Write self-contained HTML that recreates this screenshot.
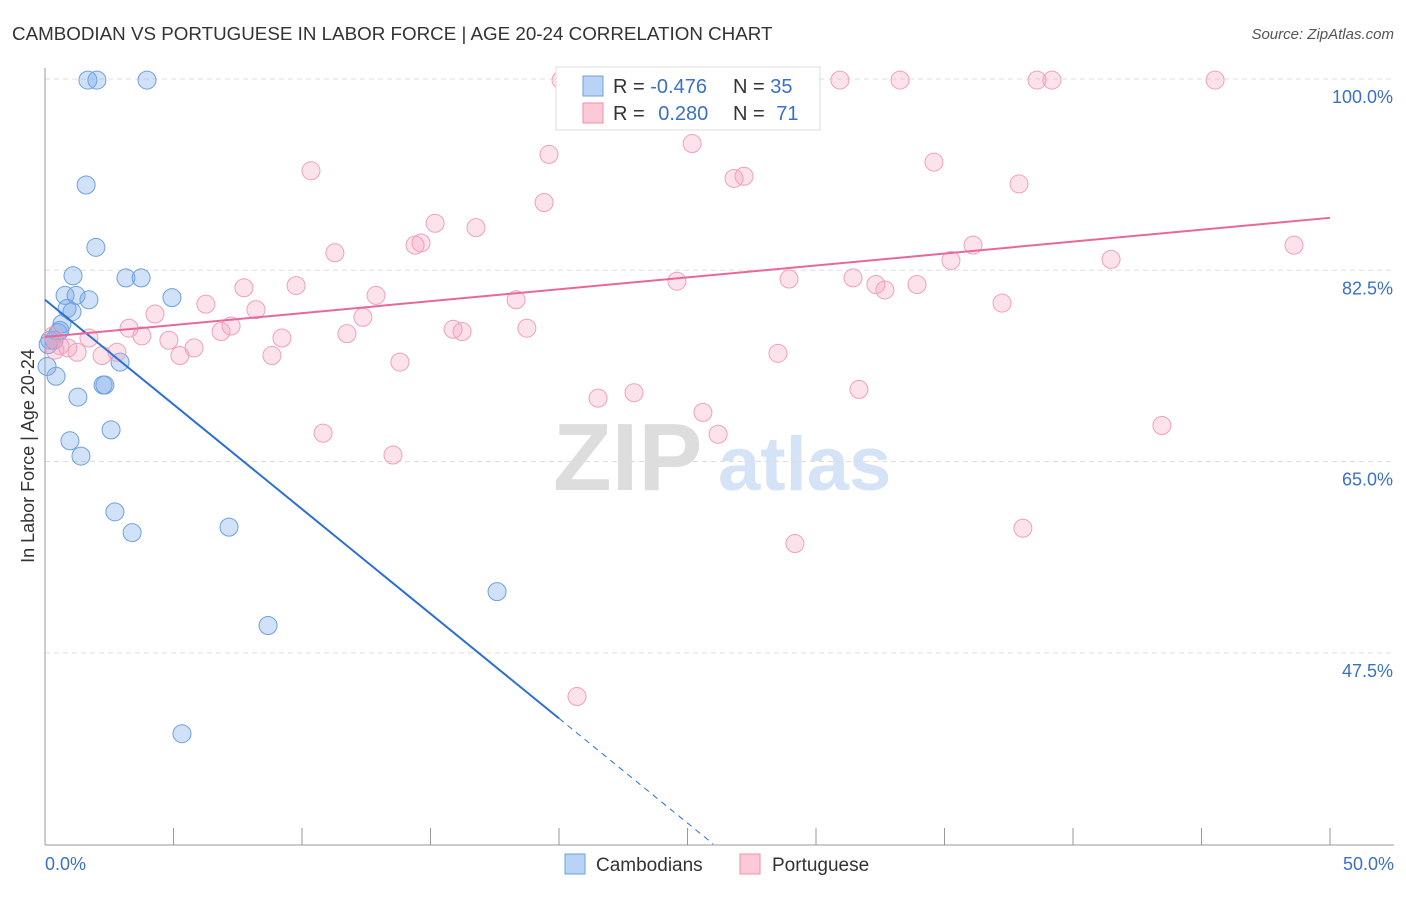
<!DOCTYPE html>
<html><head><meta charset="utf-8"><style>
body{margin:0;background:#fff;font-family:"Liberation Sans",sans-serif}
svg text{font-family:"Liberation Sans",sans-serif}
</style></head><body>
<svg id="chart" width="1406" height="892" xmlns="http://www.w3.org/2000/svg">
<text x="12" y="40" font-size="18.8" fill="#333">CAMBODIAN VS PORTUGUESE IN LABOR FORCE | AGE 20-24 CORRELATION CHART</text>
<text x="1394" y="39" font-size="15" fill="#555" text-anchor="end" font-style="italic">Source: ZipAtlas.com</text>
<g>
<text x="553" y="490" font-size="96" fill="#ddd" font-family="Liberation Serif" font-weight="bold">ZIP</text>
<text x="718" y="490" font-size="76" fill="#d4e3f5" font-weight="bold">atlas</text>
</g>
<g id="grid"></g>
<g id="axes"></g>
<g id="points"></g>
<g id="lines"></g>
<text transform="translate(34,456) rotate(-90)" font-size="18" fill="#333" text-anchor="middle">In Labor Force | Age 20-24</text>
<g>
<rect x="556" y="67" width="264" height="63" fill="#fff" stroke="#ddd"/>
<rect x="583" y="76" width="20" height="20" fill="#b9d3f5" stroke="#6ea0e0"/>
<rect x="583" y="103" width="20" height="20" fill="#fbc9d8" stroke="#f08fae"/>
<text x="613" y="93" font-size="20" fill="#333">R = <tspan fill="#3a70c9">-0.476</tspan></text>
<text x="733" y="93" font-size="20" fill="#333">N = <tspan fill="#3a70c9">35</tspan></text>
<text x="613" y="120" font-size="20" fill="#333">R = <tspan fill="#3a70c9" dx="8">0.280</tspan></text>
<text x="733" y="120" font-size="20" fill="#333">N = <tspan fill="#3a70c9" dx="6">71</tspan></text>
</g>
<g>
<rect x="565" y="854" width="20" height="20" fill="#b9d3f5" stroke="#6ea0e0"/>
<text x="596" y="871" font-size="19" fill="#333">Cambodians</text>
<rect x="740" y="854" width="20" height="20" fill="#fbc9d8" stroke="#f08fae"/>
<text x="772" y="871" font-size="19" fill="#333">Portuguese</text>
</g>
</svg>
<script>
const yTicks=[100,82.5,65,47.5];
const yTickLabels=["100.0%","82.5%","65.0%","47.5%"];
const xEndLabels=["0.0%","50.0%"];
const cambX=[1.67,2.02,3.97,1.6,1.98,1.09,3.15,3.74,4.94,0.78,1.21,1.71,0.86,1.05,0.66,0.51,0.19,0.35,2.92,0.43,2.26,2.33,1.28,2.57,0.97,1.4,2.72,7.16,3.39,17.59,8.68,5.33,0.08,0.58,0.12];
const cambY=[99.9,99.9,99.9,90.3,84.6,82.0,81.8,81.8,80.0,80.2,80.2,79.8,79.0,78.7,77.6,76.8,76.1,76.1,74.1,72.8,72.0,72.0,70.9,67.9,66.9,65.5,60.4,59.0,58.5,53.1,50.0,40.1,73.7,77.0,75.7];
const portX=[20.08,30.93,33.27,38.6,39.18,45.53,25.18,19.61,10.35,34.59,26.81,27.2,37.9,19.42,15.18,16.77,11.28,14.4,14.63,36.11,48.6,35.25,41.48,31.44,24.59,28.95,32.33,32.68,33.93,7.74,9.77,12.88,6.26,18.33,37.24,8.21,4.28,12.37,7.24,3.27,6.85,3.77,15.88,16.23,18.75,11.75,9.22,1.71,4.82,0.58,0.89,1.25,2.8,5.8,5.25,2.22,8.83,28.52,13.81,0.31,0.39,31.67,22.92,21.52,25.6,26.19,10.82,13.54,43.46,38.05,29.18,20.7];
const portY=[99.9,99.9,99.9,99.9,99.9,99.9,94.1,93.1,91.6,92.4,90.9,91.1,90.4,88.7,86.8,86.4,84.1,84.8,85.0,84.8,84.8,83.4,83.5,81.8,81.5,81.7,81.2,80.7,81.2,80.9,81.1,80.2,79.4,79.8,79.5,78.9,78.5,78.2,77.4,77.2,76.9,76.5,77.1,76.9,77.2,76.7,76.3,76.3,76.1,75.6,75.4,75.0,75.0,75.4,74.7,74.7,74.7,74.9,74.1,76.5,75.2,71.6,71.3,70.8,69.5,67.5,67.6,65.6,68.3,58.9,57.5,43.5];
const cambTrend=[79.8,-1.915];
const portTrend=[76.4,0.218];
const X=v=>45+v*25.7, Y=v=>79+(100-v)*10.93;
const NS="http://www.w3.org/2000/svg";
function mk(tag,attrs,parent){const e=document.createElementNS(NS,tag);for(const k in attrs)e.setAttribute(k,attrs[k]);document.getElementById(parent).appendChild(e);return e;}
yTicks.forEach((t,i)=>{
 const l=mk('line',{x1:45,x2:1394,y1:Y(t),y2:Y(t),stroke:'#ddd','stroke-dasharray':'5,4'},'grid');
 
 
 const tx=mk('text',{x:1393,y:Y(t)+24,'font-size':18,fill:'#3a70c9','text-anchor':'end'},'grid');
 tx.textContent=yTickLabels[i];
 
 
});
let a=mk('line',{x1:45,x2:45,y1:68,y2:845,stroke:'#999'},'axes');


a=mk('line',{x1:45,x2:1394,y1:845,y2:845,stroke:'#999'},'axes');


for(let v=0;v<=50;v+=5){const t=mk('line',{x1:X(v),x2:X(v),y1:828,y2:845,stroke:'#999'},'axes');
 
 }
[[0,'start',45],[50,'end',1394]].forEach((d,i)=>{const t=mk('text',{x:d[2],y:870,'font-size':18,fill:'#3a70c9','text-anchor':d[1]},'axes');t.textContent=xEndLabels[i];
 
 });
cambX.forEach((x,i)=>{const c=mk('circle',{cx:X(x),cy:Y(cambY[i]),r:9,fill:'rgba(120,170,235,0.35)',stroke:'#6ea0e0','stroke-width':1},'points');
 
 });
portX.forEach((x,i)=>{const c=mk('circle',{cx:X(x),cy:Y(portY[i]),r:9,fill:'rgba(245,160,190,0.3)',stroke:'#f0a0bb','stroke-width':1},'points');
 
 });
const cy=x=>cambTrend[0]+cambTrend[1]*x, py=x=>portTrend[0]+portTrend[1]*x;
let l=mk('line',{x1:X(0),y1:Y(cy(0)),x2:X(20),y2:Y(cy(20)),stroke:'#2a6fd6','stroke-width':2},'lines');


const xe=(cambTrend[0]-30)/-cambTrend[1];
l=mk('line',{x1:X(20),y1:Y(cy(20)),x2:X(xe),y2:Y(30),stroke:'#2a6fd6','stroke-width':1,'stroke-dasharray':'6,5'},'lines');


l=mk('line',{x1:X(0),y1:Y(py(0)),x2:X(50),y2:Y(py(50)),stroke:'#e8689a','stroke-width':2},'lines');


</script>
</body></html>
